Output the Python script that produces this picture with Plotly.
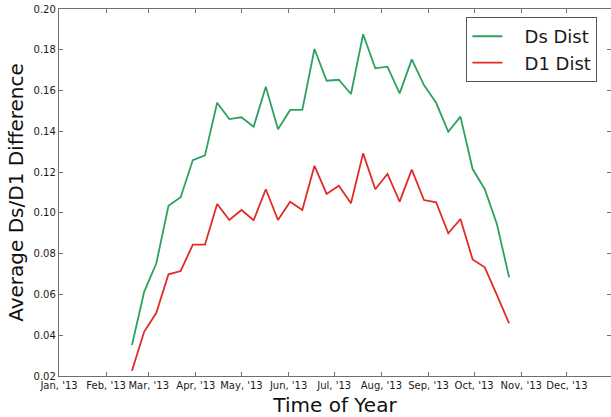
import plotly.graph_objects as go

dates = ["2013-02-18", "2013-02-26", "2013-03-06", "2013-03-14", "2013-03-22", "2013-03-30",
         "2013-04-07", "2013-04-15", "2013-04-23", "2013-05-01", "2013-05-09", "2013-05-17",
         "2013-05-25", "2013-06-02", "2013-06-10", "2013-06-18", "2013-06-26", "2013-07-04",
         "2013-07-12", "2013-07-20", "2013-07-28", "2013-08-05", "2013-08-13", "2013-08-21",
         "2013-08-29", "2013-09-06", "2013-09-14", "2013-09-22", "2013-09-30", "2013-10-08",
         "2013-10-16", "2013-10-24"]

ds_dist = [0.0352, 0.0613, 0.0753, 0.1035, 0.1077, 0.1259, 0.1282, 0.1540, 0.1460, 0.1469,
           0.1423, 0.1619, 0.1410, 0.1505, 0.1505, 0.1804, 0.1648, 0.1653, 0.1583, 0.1876,
           0.1709, 0.1717, 0.1586, 0.1753, 0.1627, 0.1540, 0.1398, 0.1472, 0.1215, 0.1116,
           0.0944, 0.0684]

d1_dist = [0.0226, 0.0417, 0.0510, 0.0699, 0.0715, 0.0844, 0.0844, 0.1044, 0.0965, 0.1014,
           0.0964, 0.1116, 0.0965, 0.1055, 0.1014, 0.1231, 0.1093, 0.1133, 0.1047, 0.1292,
           0.1116, 0.1191, 0.1055, 0.1212, 0.1063, 0.1052, 0.0900, 0.0970, 0.0772, 0.0733,
           0.0597, 0.0458]

y_ticks = [0.02, 0.04, 0.06, 0.08, 0.10, 0.12, 0.14, 0.16, 0.18, 0.20]

series_names = ["\u00a0\u00a0\u00a0Ds Dist", "\u00a0\u00a0\u00a0D1 Dist"]

GREEN = "#2ca25f"
RED = "#de2d26"
SPINE = "#707070"
FONT = "DejaVu Sans"

fig = go.Figure()
fig.add_trace(go.Scatter(x=dates, y=ds_dist, mode="lines", name=series_names[0],
                         line=dict(color=GREEN, width=1.8)))
fig.add_trace(go.Scatter(x=dates, y=d1_dist, mode="lines", name=series_names[1],
                         line=dict(color=RED, width=1.8)))
# invisible trace on right axis for mirrored y ticks
fig.add_trace(go.Scatter(x=[dates[0]], y=[ds_dist[0]], yaxis="y2", mode="lines",
                         showlegend=False, hoverinfo="skip", line=dict(width=0)))

fig.update_layout(
    width=611, height=417,
    margin=dict(l=59, r=0, t=9, b=41),
    paper_bgcolor="white", plot_bgcolor="white",
    font=dict(family=FONT, color="#1a1a1a", size=10),
    showlegend=True,
    legend=dict(
        x=0.738, y=0.978, xanchor="left", yanchor="top",
        bgcolor="white", bordercolor="#555555", borderwidth=1,
        font=dict(family=FONT, size=18, color="#1a1a1a"),
        tracegroupgap=0, entrywidth=132, entrywidthmode="pixels",
    ),
    xaxis=dict(
        type="date",
        range=["2013-01-01", "2013-12-30"],
        tick0="2013-01-01", dtick="M1", tickformat="%b, '%y", tickangle=0,
        ticks="inside", ticklen=4, tickcolor=SPINE, tickwidth=1,
        showline=True, linecolor=SPINE, linewidth=1.3, mirror="ticks",
        showgrid=False, zeroline=False, automargin=False,
        tickfont=dict(family=FONT, size=10, color="#1a1a1a"),
        title=dict(text="Time of Year", font=dict(family=FONT, size=20, color="#111"),
                   standoff=9),
    ),
    yaxis=dict(
        range=[0.02, 0.20],
        tickvals=y_ticks, tickformat=".2f",
        ticks="inside", ticklen=4, tickcolor=SPINE, tickwidth=1,
        showline=True, linecolor=SPINE, linewidth=1.3, mirror=False,
        showgrid=False, zeroline=False, automargin=False,
        ticklabeloverflow="allow",
        tickfont=dict(family=FONT, size=10, color="#1a1a1a"),
        title=dict(text="Average Ds/D1 Difference",
                   font=dict(family=FONT, size=20, color="#111"), standoff=4),
    ),
    yaxis2=dict(
        range=[0.02, 0.20], overlaying="y", side="right",
        tickvals=y_ticks, ticks="inside", ticklen=4, tickcolor=SPINE,
        showticklabels=False, showline=False, showgrid=False, zeroline=False,
        automargin=False,
    ),
)

fig.write_html("out.html", config={"displayModeBar": False},
               post_script="document.body.style.margin='0';")
